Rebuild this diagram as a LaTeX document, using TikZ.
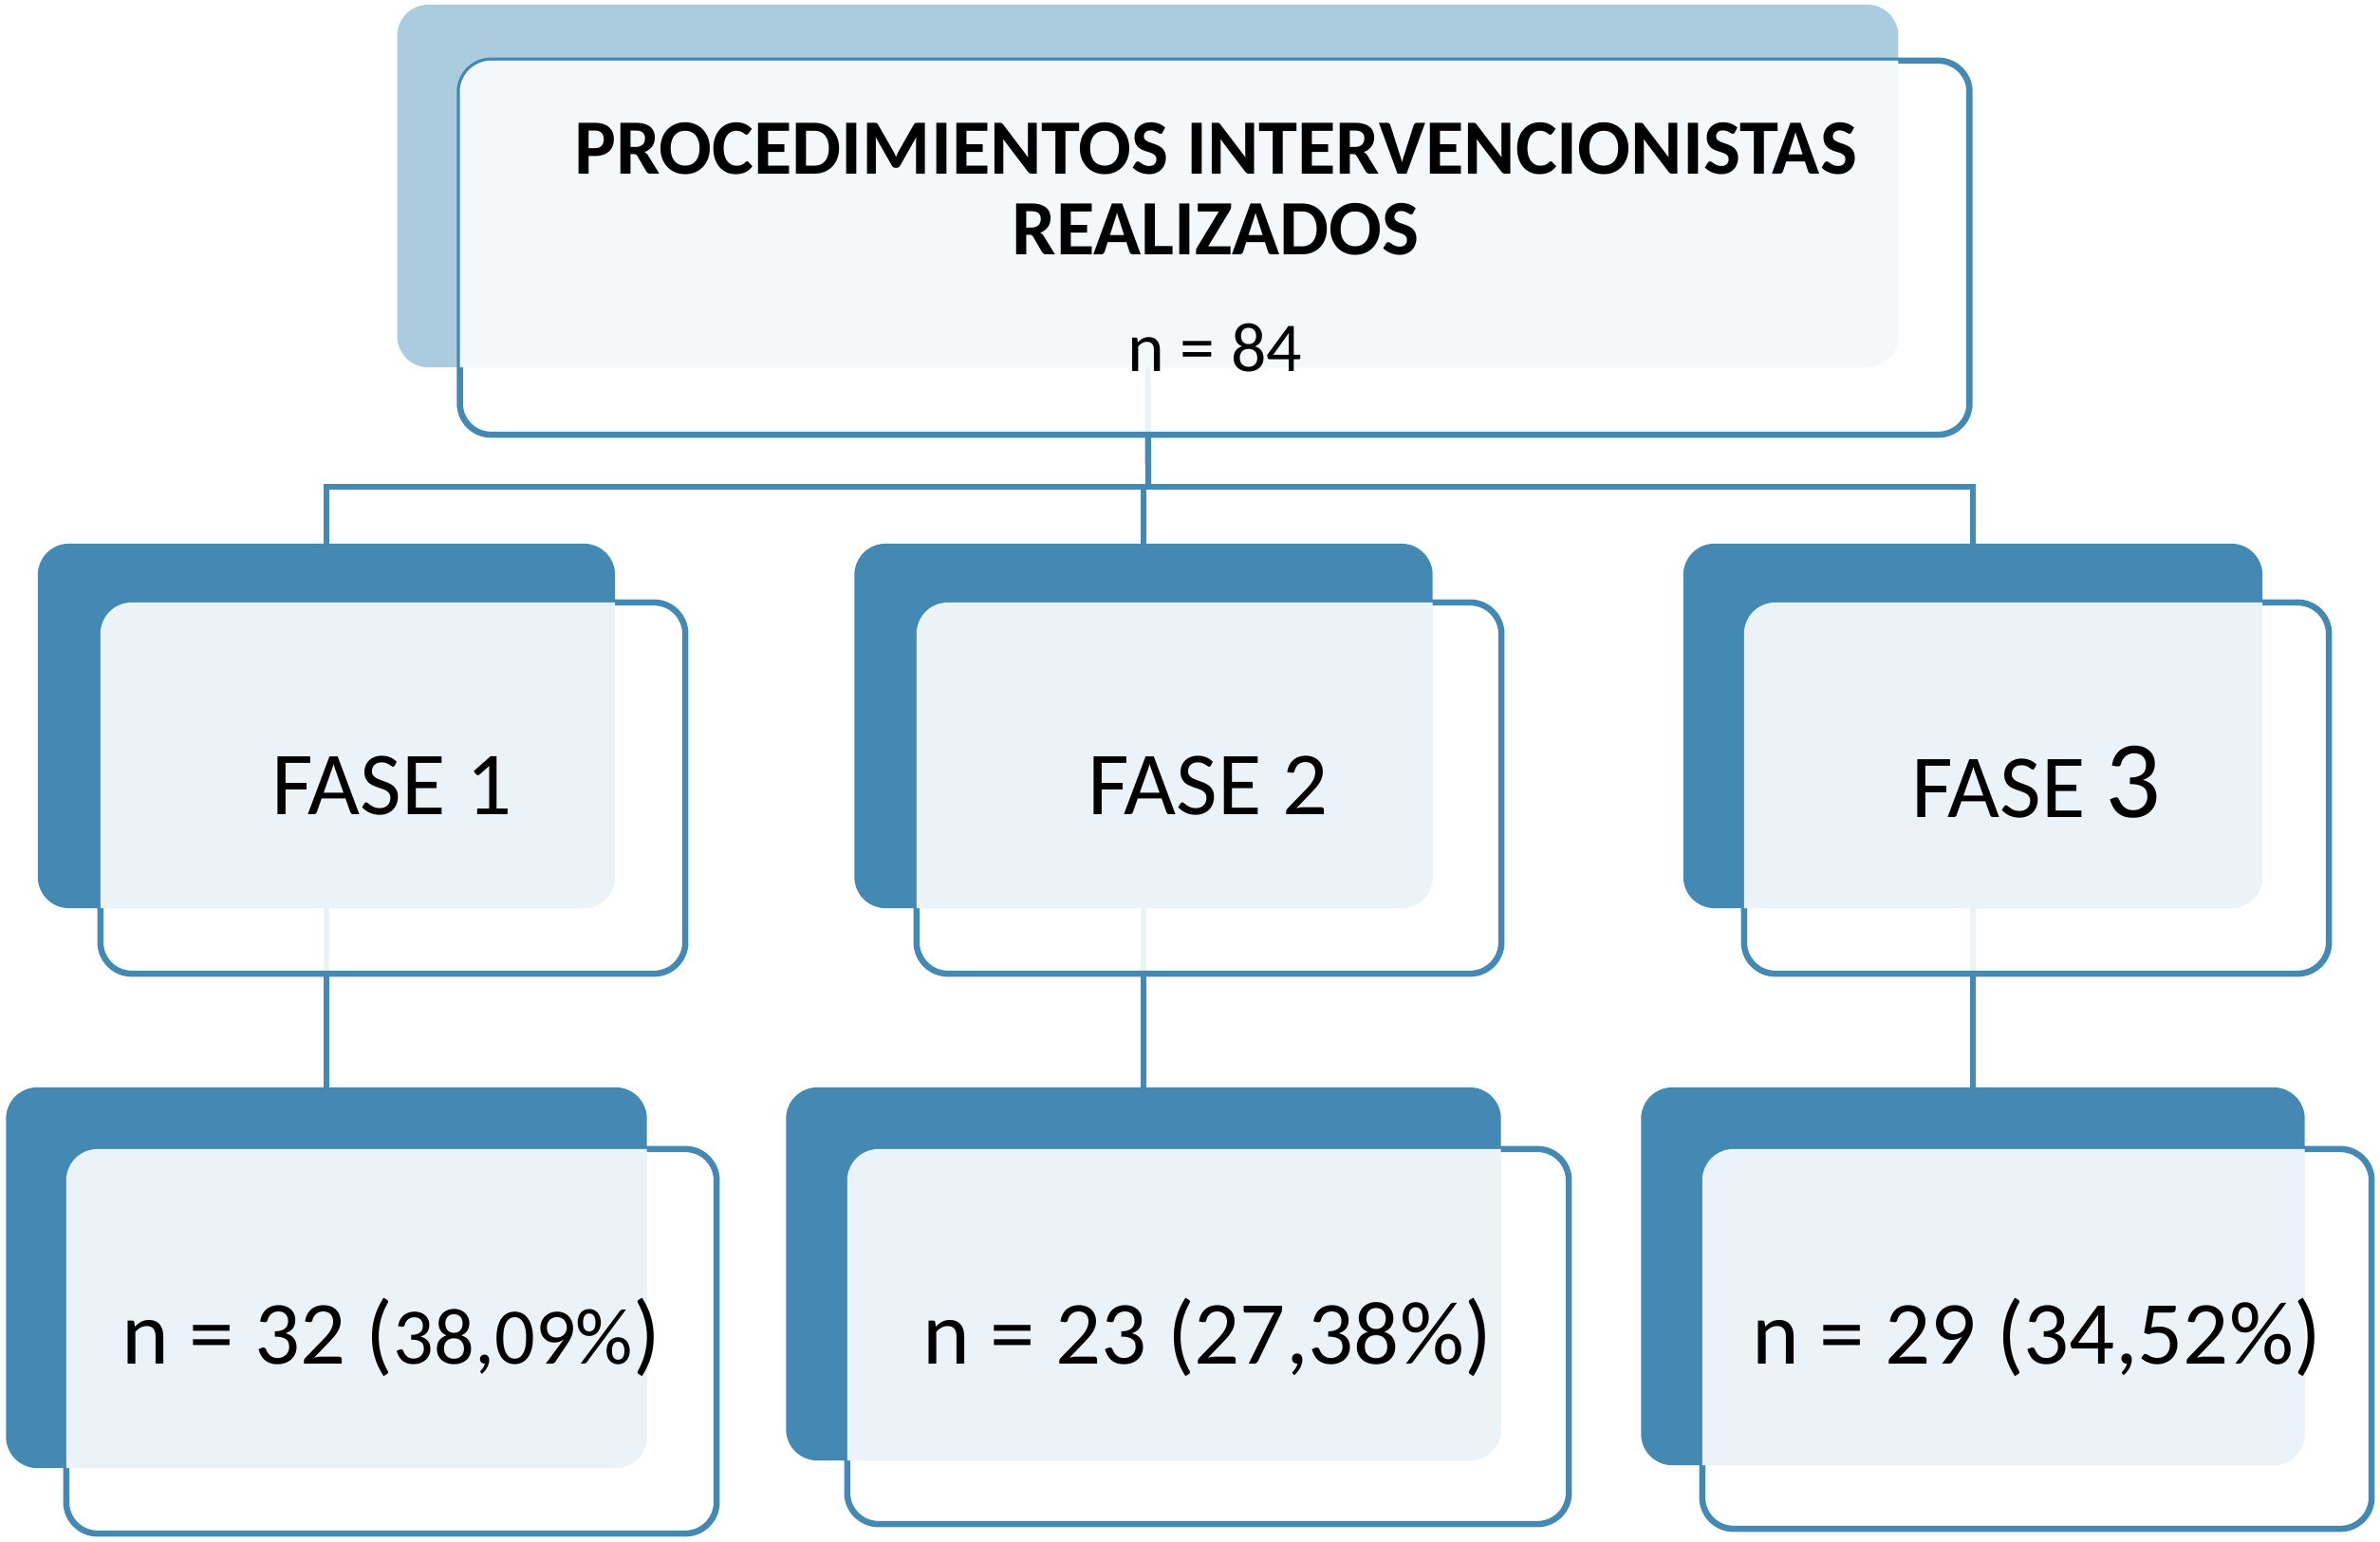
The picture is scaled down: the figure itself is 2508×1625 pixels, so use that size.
\documentclass[tikz,border=0pt]{standalone}
\usepackage{fontspec}
\setmainfont{Carlito}
\usetikzlibrary{calc}
\definecolor{dblue}{RGB}{67,137,180}
\definecolor{lblue}{RGB}{171,204,222}
\definecolor{ovl}{RGB}{235,243,248}
\definecolor{ovltop}{RGB}{244,248,251}
\pgfdeclarelayer{bg}
\pgfsetlayers{bg,main}
\begin{document}
\begin{tikzpicture}[x=0.01cm,y=-0.01cm,
  backbox/.style={rectangle, rounded corners=0.33cm, fill=dblue, draw=none, inner sep=0pt, outer sep=0pt},
  frontbox/.style={rectangle, rounded corners=0.33cm, draw=dblue, line width=1.85pt, fill=white, fill opacity=0.9, inner sep=0pt, outer sep=0pt},
  conn/.style={draw=dblue, line width=1.8pt},
  titlefont/.style={font=\bfseries\fontsize{23.5}{28}\selectfont},
  fasefont/.style={font=\fontsize{27}{32}\selectfont},
  numfont/.style={font=\fontsize{27}{32}\selectfont}]
\useasboundingbox (0,0) rectangle (2508,1625);

% ---------- top ----------
\node[backbox, fill=lblue, minimum width=15.81cm, minimum height=3.82cm] (b0) at (1209.5,196) {};
\node[frontbox, minimum width=15.90cm, minimum height=3.94cm] (f0) at (1280,261) {};
\begin{scope}
  \clip[rounded corners=0.33cm] (b0.north west) rectangle (b0.south east);
  \fill[ovltop, rounded corners=0.33cm] (f0.north west) rectangle (f0.south east);
\end{scope}
\node[titlefont, anchor=base] (t0a) at (1281,184) {PROCEDIMIENTOS INTERVENCIONISTAS};
\node[titlefont, anchor=base] (t0b) at (1281,269) {REALIZADOS};
\node[font=\fontsize{21}{25}\selectfont, anchor=base] (t0c) at (1280,392) {n = 84};

% ---------- row 2 ----------
\node[backbox, minimum width=6.08cm, minimum height=3.84cm] (b1) at (344,765) {};
\node[frontbox, minimum width=6.16cm, minimum height=3.91cm] (f1) at (414,830.5) {};
\node[backbox, minimum width=6.09cm, minimum height=3.84cm] (b2) at (1205,765) {};
\node[frontbox, minimum width=6.16cm, minimum height=3.91cm] (f2) at (1274,830.5) {};
\node[backbox, minimum width=6.10cm, minimum height=3.84cm] (b3) at (2079,765) {};
\node[frontbox, minimum width=6.16cm, minimum height=3.91cm] (f3) at (2146,830.5) {};
\foreach \i in {1,2,3}{
  \begin{scope}
    \clip[rounded corners=0.33cm] (b\i.north west) rectangle (b\i.south east);
    \fill[ovl, rounded corners=0.33cm] (f\i.north west) rectangle (f\i.south east);
  \end{scope}
}
\node[fasefont, anchor=base] (t1) at (413,859) {FASE 1};
\node[fasefont, anchor=base] (t2) at (1273,859) {FASE 2};
\node[fasefont, anchor=base] (t3) at (2146,862) {FASE {\fontsize{33}{38}\selectfont 3}};

% ---------- row 3 ----------
\node[backbox, minimum width=6.75cm, minimum height=4.01cm] (c1) at (344,1346.5) {};
\node[frontbox, minimum width=6.85cm, minimum height=4.05cm] (g1) at (412.5,1413.5) {};
\node[backbox, minimum width=7.53cm, minimum height=3.93cm] (c2) at (1205,1342.5) {};
\node[frontbox, minimum width=7.60cm, minimum height=3.95cm] (g2) at (1273,1408.5) {};
\node[backbox, minimum width=6.99cm, minimum height=3.98cm] (c3) at (2079,1345) {};
\node[frontbox, minimum width=7.05cm, minimum height=4.00cm] (g3) at (2146.5,1411) {};
\foreach \i in {1,2,3}{
  \begin{scope}
    \clip[rounded corners=0.33cm] (c\i.north west) rectangle (c\i.south east);
    \fill[ovl, rounded corners=0.33cm] (g\i.north west) rectangle (g\i.south east);
  \end{scope}
}
\node[numfont, anchor=base] (u1) at (412,1437) {n = 32 ({\fontsize{24}{28}\selectfont 38,09\%})};
\node[numfont, anchor=base] (u2) at (1272,1437) {n = 23 (27,38\%)};
\node[numfont, anchor=base] (u3) at (2146,1437) {n = 29 (34,52\%)};

% ---------- connectors ----------
\begin{pgfonlayer}{bg}
  \coordinate (bus) at (1210,513);
  \draw[conn] (b0.south) -- (bus);
  \draw[conn] (b1.north) -- (b1.north |- bus) -- (b3.north |- bus) -- (b3.north);
  \draw[conn] (b2.north) -- (b2.north |- bus);
  \draw[conn] (b1.south) -- (c1.north);
  \draw[conn] (b2.south) -- (c2.north);
  \draw[conn] (b3.south) -- (c3.north);
\end{pgfonlayer}
\end{tikzpicture}
\end{document}
